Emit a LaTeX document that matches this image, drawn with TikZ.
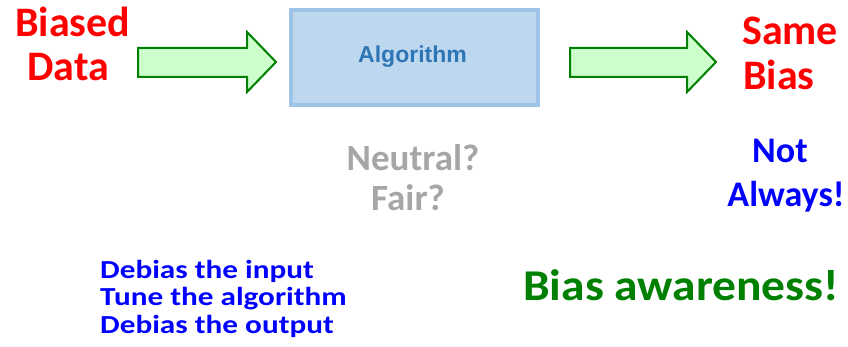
\documentclass[tikz,border=0pt]{standalone}
\usepackage{fontspec}
\setmainfont{Carlito}
\newfontfamily\arialfont{Liberation Sans}
\definecolor{boxfill}{HTML}{BDD7EE}
\definecolor{boxline}{HTML}{9DC3E6}
\definecolor{algotext}{HTML}{2E75B6}
\definecolor{arrowfill}{HTML}{CCFFCC}
\definecolor{arrowline}{HTML}{008000}
\definecolor{redtext}{HTML}{FF0000}
\definecolor{bluetext}{HTML}{0000FF}
\definecolor{greytext}{HTML}{A6A6A6}
\definecolor{greentext}{HTML}{008000}
\tikzset{
  lbl/.style={inner sep=0pt, font=\bfseries},
  blockarrow/.style={draw=arrowline, fill=arrowfill, line width=2pt, line join=miter},
  algobox/.style={draw=boxline, fill=boxfill, line width=3.5pt, inner sep=0pt},
  remedy/.style={lbl, anchor=base west, text=bluetext, font=\bfseries\fontsize{26}{28}\selectfont}
}
\begin{document}
\begin{tikzpicture}[x=1pt,y=-1pt]
\useasboundingbox (0,0) rectangle (848,347);

% block arrow into the algorithm
\draw[blockarrow] (138,48) -- (247,48) -- (247,32) -- (276,62) -- (247,92)
  -- (247,77) -- (138,77) -- cycle;
% block arrow out of the algorithm
\draw[blockarrow] (570,48) -- (687,48) -- (687,32) -- (716,62) -- (687,92)
  -- (687,77) -- (570,77) -- cycle;

% the algorithm box
\node[algobox, minimum width=247pt, minimum height=95pt] (algo) at (414.5,57.5) {};
\node[inner sep=0pt, anchor=base, text=algotext, font=\arialfont\bfseries\fontsize{23}{27}\selectfont]
  (algolbl) at (412.5,63) {Algorithm};

% input and output labels
\node[lbl, anchor=base west, text=redtext, font=\bfseries\fontsize{42}{50}\selectfont] (biased) at (15,37) {Biased};
\node[lbl, anchor=base west, text=redtext, font=\bfseries\fontsize{42}{50}\selectfont] (data) at (27,81) {Data};
\node[lbl, anchor=base west, text=redtext, font=\bfseries\fontsize{42}{50}\selectfont] (same) at (742,45) {Same};
\node[lbl, anchor=base west, text=redtext, font=\bfseries\fontsize{42}{50}\selectfont] (bias) at (743,90) {Bias};

% questions under the box
\node[lbl, anchor=base, text=greytext, font=\bfseries\fontsize{37}{44}\selectfont] (neutral) at (413,171) {Neutral?};
\node[lbl, anchor=base, text=greytext, font=\bfseries\fontsize{37}{44}\selectfont] (fair) at (408,211) {Fair?};

% answer on the right
\node[lbl, anchor=base, text=bluetext, font=\bfseries\fontsize{36}{44}\selectfont] (notw) at (780,163) {Not};
\node[lbl, anchor=base, text=bluetext, font=\bfseries\fontsize{36}{44}\selectfont] (always) at (786,207) {Always!};

% remedies
\node[remedy] (r1) at (100,278) {\scalebox{1.2}[1]{Debias the input}};
\node[remedy] (r2) at (100,305) {\scalebox{1.2}[1]{Tune the algorithm}};
\node[remedy] (r3) at (100,333) {\scalebox{1.2}[1]{Debias the output}};

\node[lbl, anchor=base west, text=greentext, font=\bfseries\fontsize{44}{52}\selectfont] (aware) at (523,300) {\scalebox{1.08}[1]{Bias awareness!}};
\end{tikzpicture}
\end{document}
